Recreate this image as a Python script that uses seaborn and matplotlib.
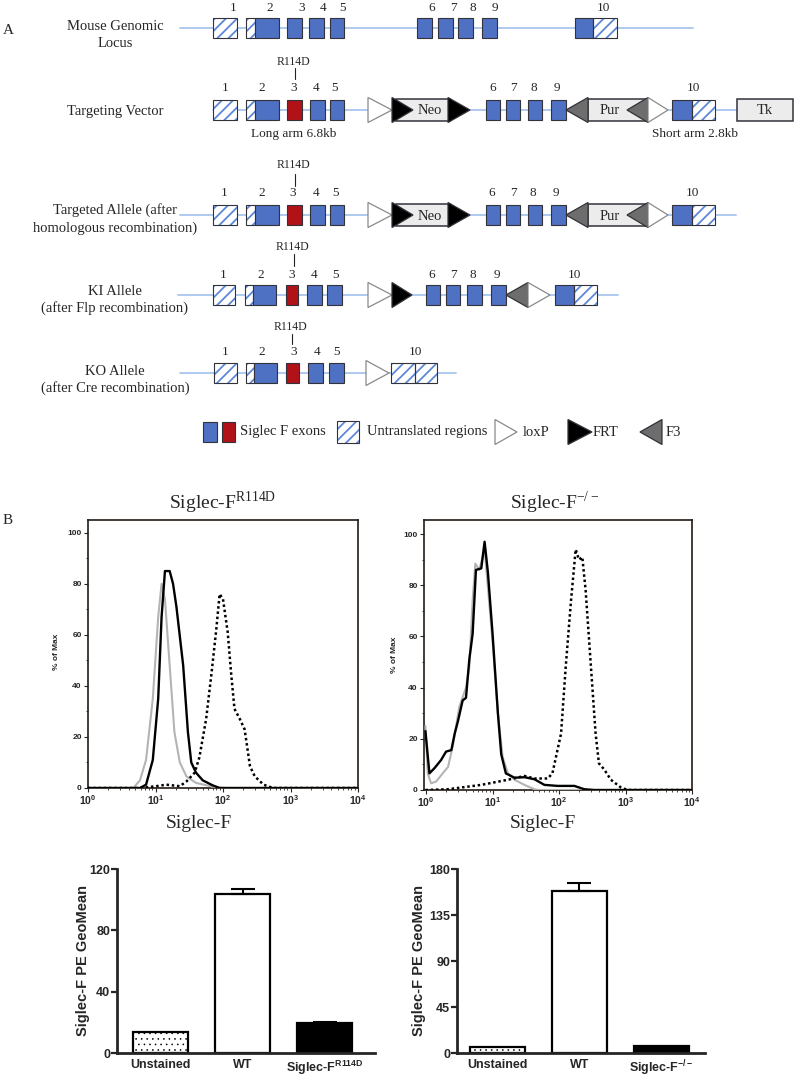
import numpy as np
import pandas as pd
import seaborn as sns
import matplotlib
matplotlib.use('Agg')
import matplotlib.pyplot as plt
from matplotlib.patches import Rectangle, Polygon
from matplotlib.ticker import LogLocator, MultipleLocator, NullFormatter

W, H = 797, 1078

# ---------------- panel A text ----------------
exon_numbers = ['1', '2', '3', '4', '5', '6', '7', '8', '9', '10']
ko_exon_numbers = ['1', '2', '3', '4', '5', '10']
row_titles = ['Mouse Genomic\nLocus', 'Targeting Vector',
              'Targeted Allele (after\nhomologous recombination)',
              'KI Allele\n(after Flp recombination)',
              'KO Allele\n(after Cre recombination)']
mutation = 'R114D'
cassettes = ['Neo', 'Pur', 'Tk']
arm_labels = ['Long arm 6.8kb', 'Short arm 2.8kb']
legend_labels = ['Siglec F exons', 'Untranslated regions', 'loxP', 'FRT', 'F3']

# ---------------- panel B: histograms, x = log10(Siglec-F), y = % of max ----------------
r114d_unst_log = [0, 0.67, 0.77, 0.86, 0.96, 1.04, 1.09, 1.14, 1.21, 1.28, 1.36, 1.46, 1.60, 1.85, 2.05, 4]
r114d_unst_pct = [0, 0, 3, 11, 35, 67, 80, 74, 48, 22, 10, 4.5, 2, 0.5, 0, 0]
r114d_mut_log = [0, 0.77, 0.86, 0.96, 1.04, 1.09, 1.14, 1.21, 1.26, 1.31, 1.41, 1.48, 1.53, 1.60, 1.70, 1.85, 1.95, 4]
r114d_mut_pct = [0, 0, 1.3, 11, 35, 67, 85, 85, 80, 71, 48, 22, 10, 6, 3, 1, 0, 0]
r114d_wt_log = [0, 0.77, 1.01, 1.16, 1.36, 1.46, 1.58, 1.65, 1.75, 1.83, 1.90, 1.95, 2.0, 2.07, 2.12, 2.17,
                2.25, 2.32, 2.40, 2.47, 2.60, 2.74, 4]
r114d_wt_pct = [0, 0, 0.7, 1.3, 0.7, 2.6, 6, 12, 27, 45, 62, 76, 74, 61, 45, 31, 27, 23, 8.5, 4.6, 1.3, 0, 0]

ko_unst_log = [-0.01, 0.025, 0.075, 0.15, 0.25, 0.33, 0.40, 0.50, 0.60, 0.65, 0.70, 0.74, 0.80, 0.88, 0.93,
               1.0, 1.08, 1.15, 1.23, 1.33, 1.48, 1.63, 1.70, 4]
ko_unst_pct = [25, 6.5, 2.6, 3.3, 6.5, 9, 17, 32.5, 40, 48, 74, 88.5, 86, 94, 79, 58, 30, 13, 6.5, 4, 2, 0.3, 0, 0]
ko_mut_log = [-0.01, 0.05, 0.125, 0.225, 0.30, 0.38, 0.43, 0.48, 0.55, 0.60, 0.65, 0.70, 0.75, 0.83, 0.88,
              0.93, 1.0, 1.08, 1.13, 1.20, 1.33, 1.48, 1.63, 1.78, 1.98, 2.23, 2.38, 2.53, 4]
ko_mut_pct = [23, 6.5, 8.5, 11.7, 15, 15.6, 22, 27, 35, 36, 51, 61, 86, 86.6, 97, 85, 61, 30, 14, 6.5,
              4.8, 5, 4.2, 2, 1.6, 1.6, 0.3, 0, 0]
ko_wt_log = [-0.01, 0.33, 0.83, 1.23, 1.48, 1.63, 1.83, 1.90, 2.03, 2.10, 2.18, 2.25, 2.30, 2.35, 2.40, 2.48,
             2.55, 2.60, 2.68, 2.78, 2.93, 3.03, 4]
ko_wt_pct = [0, 0.3, 2, 4, 5.5, 4.5, 4.5, 6.5, 22, 48, 74, 94, 90, 91, 78, 48, 22, 10.4, 8, 4, 1, 0, 0]

# ---------------- panel B: GeoMean bars ----------------
r114d_groups = ['Unstained', 'WT', 'Siglec-F$^{\\mathsf{R114D}}$']
r114d_means = [13.5, 104, 19.5]
r114d_err = [0, 3, 0.5]
ko_groups = ['Unstained', 'WT', 'Siglec-F$^{\\mathsf{-/-}}$']
ko_means = [6, 158.5, 6.8]
ko_err = [0, 7.5, 0]

# ---------------- style ----------------
sns.set_style('ticks')
plt.rcParams['font.family'] = ['Liberation Serif', 'DejaVu Serif']
plt.rcParams['mathtext.fontset'] = 'custom'
plt.rcParams['mathtext.rm'] = 'Liberation Serif'
plt.rcParams['mathtext.sf'] = 'Liberation Sans:bold'
plt.rcParams['mathtext.bf'] = 'Liberation Sans:bold'
plt.rcParams['hatch.linewidth'] = 1.3

EXON_BLUE = '#4f71c3'
EXON_RED = '#b01218'
UTR_BLUE = '#5d88d8'
LINE_BLUE = '#a9c5ef'
EDGE = '#33323a'
SANS = 'Liberation Sans'

fig = plt.figure(figsize=(W / 100, H / 100), dpi=100)
canvas = fig.add_axes([0, 0, 1, 1])
canvas.set_xlim(0, W)
canvas.set_ylim(H, 0)
canvas.axis('off')


def px_axes(left, top, right, bottom):
    return fig.add_axes([left / W, 1 - bottom / H, (right - left) / W, (bottom - top) / H])


# ---------------- panel A drawing ----------------
def block(x0, x1, y, kind, h=10):
    if kind == 'u':
        canvas.add_patch(Rectangle((x0, y - h), x1 - x0, 2 * h, facecolor='white', edgecolor=UTR_BLUE,
                                   hatch='///', lw=0, zorder=3))
        canvas.add_patch(Rectangle((x0, y - h), x1 - x0, 2 * h, facecolor='none', edgecolor=EDGE,
                                   lw=0.8, zorder=4))
    else:
        face = EXON_RED if kind == 'r' else EXON_BLUE
        canvas.add_patch(Rectangle((x0, y - h), x1 - x0, 2 * h, facecolor=face, edgecolor=EDGE,
                                   lw=0.8, zorder=4))


def triangle(base, tip, y, face, h=12.5):
    edge = '#8a8a8a' if face == 'white' else EDGE
    canvas.add_patch(Polygon([(base, y - h), (base, y + h), (tip, y)], closed=True, facecolor=face,
                             edgecolor=edge, lw=0.9, zorder=6))


def cassette(x0, x1, y, label, tx, h=11):
    canvas.add_patch(Rectangle((x0, y - h), x1 - x0, 2 * h, facecolor='#ececec', edgecolor=EDGE,
                               lw=1.1, zorder=5))
    canvas.text(tx, y + 1, label, ha='center', va='center', fontsize=10.5, zorder=7)


def draw_row(y, line, parts, numbers, number_x, number_y):
    canvas.plot(line, [y, y], color=LINE_BLUE, lw=1.3, zorder=1)
    for p in parts:
        kind = p[0]
        if kind in ('u', 'e', 'r'):
            block(p[1], p[2], y, kind)
        elif kind == 'lox':
            triangle(p[1], p[2], y, 'white')
        elif kind == 'frt':
            triangle(p[1], p[2], y, 'black')
        elif kind == 'f3':
            triangle(p[1], p[2], y, '#6d6d6d')
        elif kind == 'box':
            cassette(p[1], p[2], y, p[3], p[4])
    for num, nx in zip(numbers, number_x):
        canvas.text(nx, number_y, num, ha='center', va='center', fontsize=9.5)


def mutation_mark(x, y_text, y0, y1):
    canvas.text(x, y_text, mutation, ha='center', va='center', fontsize=8.5)
    canvas.plot([x + 2, x + 2], [y0, y1], color='#222222', lw=0.8)


front = [('u', 213, 237), ('u', 246, 255), ('e', 255, 279)]
middle = [('lox', 368, 392), ('box', 396, 450, cassettes[0], 430), ('frt', 392, 413), ('frt', 448, 470),
          ('e', 486, 500), ('e', 506, 520), ('e', 528, 542), ('e', 551, 566),
          ('box', 588, 648, cassettes[1], 610), ('f3', 588, 566), ('f3', 648, 627), ('lox', 648, 668),
          ('e', 672, 692), ('u', 692, 715)]

# mouse genomic locus
draw_row(28, [180, 693],
         front + [('e', 287, 302), ('e', 309, 324), ('e', 330, 344), ('e', 417, 432), ('e', 438, 453),
                  ('e', 458, 473), ('e', 482, 497), ('e', 575, 593), ('u', 593, 617)],
         exon_numbers, [233, 270, 302, 323, 343, 432, 453, 473, 495, 603], 8)
# targeting vector
draw_row(110, [213, 737],
         front + [('r', 287, 302), ('e', 310, 325), ('e', 330, 344)] + middle
         + [('box', 737, 793, cassettes[2], 765)],
         exon_numbers, [225, 262, 294, 316, 335, 493, 513, 534, 557, 693], 88)
mutation_mark(293, 62, 68, 79)
canvas.text(294, 134, arm_labels[0], ha='center', va='center', fontsize=9.5)
canvas.text(695, 134, arm_labels[1], ha='center', va='center', fontsize=9.5)
# targeted allele
draw_row(215, [180, 736],
         front + [('r', 287, 302), ('e', 310, 325), ('e', 330, 344)] + middle,
         exon_numbers, [224, 262, 293, 316, 336, 492, 513, 533, 556, 692], 193)
mutation_mark(293, 165, 174, 186)
# KI allele
draw_row(295, [178, 618],
         [('u', 213, 235), ('u', 245, 253), ('e', 253, 276), ('r', 286, 298), ('e', 307, 322),
          ('e', 327, 342), ('lox', 368, 392), ('frt', 392, 412), ('e', 426, 440), ('e', 446, 460),
          ('e', 467, 482), ('e', 491, 506), ('f3', 528, 506), ('lox', 528, 550),
          ('e', 555, 574), ('u', 574, 597)],
         exon_numbers, [223, 261, 292, 314, 336, 432, 453, 473, 497, 574], 275)
mutation_mark(292, 247, 254, 266)
# KO allele
draw_row(373, [180, 456],
         [('u', 214, 237), ('u', 246, 254), ('e', 254, 277), ('r', 286, 299), ('e', 308, 323),
          ('e', 329, 344), ('lox', 366, 389), ('u', 391, 415), ('u', 415, 437)],
         ko_exon_numbers, [225, 262, 294, 317, 337, 415], 352)
mutation_mark(290, 327, 334, 344)

for title, ty in zip(row_titles, [35, 112, 219, 300, 380]):
    canvas.text(115, ty, title, ha='center', va='center', fontsize=10.5, linespacing=1.35)

# legend
block(203, 217, 432, 'e')
block(222, 235, 432, 'r')
canvas.text(240, 432, legend_labels[0], va='center', fontsize=10.5)
block(337, 359, 432, 'u', h=11)
canvas.text(367, 432, legend_labels[1], va='center', fontsize=10.5)
triangle(495, 517, 432, 'white')
canvas.text(523, 432, legend_labels[2], va='center', fontsize=10.5)
triangle(568, 592, 432, 'black')
canvas.text(593, 432, legend_labels[3], va='center', fontsize=10.5)
triangle(662, 640, 432, '#6d6d6d')
canvas.text(666, 432, legend_labels[4], va='center', fontsize=10.5)

canvas.text(8, 31, 'A', ha='center', va='center', fontsize=11)
canvas.text(8, 521, 'B', ha='center', va='center', fontsize=11)


# ---------------- panel B histograms ----------------
def histogram(rect, xlim, ylim, curves):
    ax = px_axes(*rect)
    ax.set_xscale('log')
    for logs, pct, color, ls, lw in curves:
        sns.lineplot(x=10 ** np.array(logs), y=pct, ax=ax, color=color, linestyle=ls, lw=lw,
                     sort=False, estimator=None, zorder=3)
    ax.set_xlim(*xlim)
    ax.set_ylim(*ylim)
    ax.set_xticks([1, 10, 100, 1000, 10000])
    ax.set_xticklabels(['$\\mathsf{10^{%d}}$' % i for i in range(5)])
    ax.xaxis.set_minor_locator(LogLocator(base=10, subs=np.arange(2, 10)))
    ax.xaxis.set_minor_formatter(NullFormatter())
    ax.set_yticks([0, 20, 40, 60, 80, 100])
    ax.yaxis.set_minor_locator(MultipleLocator(10))
    ax.tick_params(which='major', direction='out', length=3, width=0.8, labelsize=6, pad=1.5)
    ax.tick_params(axis='x', which='major', labelsize=7.5, pad=1)
    ax.tick_params(which='minor', direction='out', length=1.5, width=0.6)
    plt.setp(ax.get_yticklabels(), family=SANS, weight='bold')
    for s in ax.spines.values():
        s.set_linewidth(1.2)
        s.set_color('#221a14')
    ax.set_xlabel('')
    ax.set_ylabel('')
    return ax


histogram((88, 520, 358, 788), (1, 1e4), (0, 105),
          [(r114d_unst_log, r114d_unst_pct, '#b4b4b4', '-', 1.5),
           (r114d_wt_log, r114d_wt_pct, 'black', (0, (1, 1.1)), 1.8),
           (r114d_mut_log, r114d_mut_pct, 'black', '-', 1.7)])
histogram((424, 520, 692, 790), (0.93, 1e4), (0, 105.5),
          [(ko_unst_log, ko_unst_pct, '#b4b4b4', '-', 1.5),
           (ko_wt_log, ko_wt_pct, 'black', (0, (1, 1.1)), 1.8),
           (ko_mut_log, ko_mut_pct, 'black', '-', 1.7)])

canvas.text(223, 503, 'Siglec-F$^{\\mathrm{R114D}}$', ha='center', va='center', fontsize=14)
canvas.text(555, 503, 'Siglec-F$^{\\mathrm{-/-}}$', ha='center', va='center', fontsize=14)
canvas.text(199, 824, 'Siglec-F', ha='center', va='center', fontsize=14)
canvas.text(543, 824, 'Siglec-F', ha='center', va='center', fontsize=14)
canvas.text(57, 652, '% of Max', ha='center', va='center', rotation=90, fontsize=6, family=SANS, weight='bold')
canvas.text(395, 655, '% of Max', ha='center', va='center', rotation=90, fontsize=6, family=SANS, weight='bold')


# ---------------- panel B bars ----------------
def bars(rect, xlim, groups, means, errs, ymax, yticks):
    ax = px_axes(*rect)
    sns.barplot(x=groups, y=means, ax=ax, width=0.67, color='white', edgecolor='black',
                linewidth=1.6, errorbar=None)
    patches = ax.patches
    patches[0].set_hatch('...')
    if hasattr(patches[0], 'set_hatch_linewidth'):
        patches[0].set_hatch_linewidth(0.4)
    patches[2].set_facecolor('black')
    idx = [i for i, e in enumerate(errs) if e > 0]
    ax.errorbar(idx, [means[i] for i in idx], yerr=[[0] * len(idx), [errs[i] for i in idx]],
                fmt='none', ecolor='black', elinewidth=1.5, capsize=8.5, capthick=1.5, zorder=1)
    ax.set_xlim(*xlim)
    ax.set_ylim(0, ymax)
    ax.set_yticks(yticks)
    sns.despine(ax=ax)
    for s in ax.spines.values():
        s.set_linewidth(2)
    ax.tick_params(axis='y', direction='out', length=4, width=1.6, labelsize=9, pad=1)
    ax.tick_params(axis='x', length=0, labelsize=9, pad=4)
    plt.setp(ax.get_yticklabels(), family=SANS, weight='bold')
    plt.setp(ax.get_xticklabels(), family=SANS, weight='bold')
    ax.set_xlabel('')
    ax.set_ylabel('')
    return ax


bars((117, 869, 375, 1053), (-0.53, 2.61), r114d_groups, r114d_means, r114d_err, 120, [0, 40, 80, 120])
bars((457, 869, 705, 1053), (-0.49, 2.53), ko_groups, ko_means, ko_err, 180, [0, 45, 90, 135, 180])
canvas.text(83, 960, 'Siglec-F PE GeoMean', ha='center', va='center', rotation=90, fontsize=10.5,
            family=SANS, weight='bold')
canvas.text(419, 961, 'Siglec-F PE GeoMean', ha='center', va='center', rotation=90, fontsize=10.5,
            family=SANS, weight='bold')

fig.savefig('out.png', dpi=100)
